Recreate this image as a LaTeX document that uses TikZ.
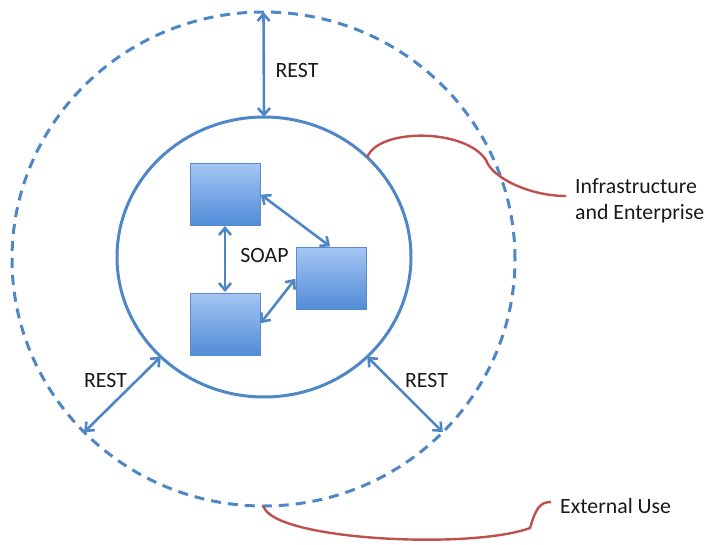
\documentclass[tikz,border=0pt]{standalone}
\usepackage{fontspec}
\setmainfont{Carlito}
\usetikzlibrary{arrows.meta,shapes.geometric}
\definecolor{lblue}{HTML}{4F87C6}
\definecolor{boxtop}{HTML}{A4C6F3}
\definecolor{boxbot}{HTML}{528CD8}
\definecolor{boxline}{HTML}{5A8CCB}
\definecolor{lred}{HTML}{C0504D}
\begin{document}
\begin{tikzpicture}[x=1pt,y=-1pt,
  ring/.style={ellipse,draw=lblue,line width=3pt,inner sep=0pt,outer sep=0pt},
  dashring/.style={ring,dash pattern=on 10pt off 7pt},
  soapbox/.style={rectangle,draw=boxline,line width=0.8pt,top color=boxtop,bottom color=boxbot,minimum width=70pt,minimum height=62pt,inner sep=0pt,outer sep=0pt},
  link/.style={draw=lblue,line width=2.6pt,{Straight Barb[length=7pt,width=12pt]}-{Straight Barb[length=7pt,width=12pt]}},
  callout/.style={draw=lred,line width=2.4pt},
  lbl/.style={font=\fontsize{21.8}{26}\selectfont,inner sep=0pt,text=black!90}]
\useasboundingbox (0,0) rectangle (707,544);
\node[dashring,minimum width=503pt,minimum height=494pt] (outer) at (263.5,259) {};
\node[ring,minimum width=294pt,minimum height=280pt] (inner) at (264,257) {};
\node[soapbox] (A) at (225,194) {};
\node[soapbox] (C) at (225,324) {};
\node[soapbox] (B) at (331,278) {};
\draw[link,shorten <=1pt,shorten >=1pt] (A.south) -- (C.north);
\draw[link,shorten <=1pt,shorten >=1pt] (A.east) -- (B.north);
\draw[link,shorten <=1pt,shorten >=1pt] (C.east) -- (B.west);
\draw[link] (outer.north) -- (inner.north);
\draw[link] (inner.224) -- (outer.224);
\draw[link] (inner.316) -- (outer.316);
\node[lbl,anchor=base] (soap) at (264.5,262) {SOAP};
\node[lbl,anchor=base] (rtop) at (297,77) {REST};
\node[lbl,anchor=base] (rleft) at (105.5,387) {REST};
\node[lbl,anchor=base] (rright) at (426.5,387) {REST};
\node[lbl,anchor=base west,align=left] (infra) at (575,219) {Infrastructure\\and Enterprise};
\node[lbl,anchor=base west] (ext) at (560,513) {External Use};
\draw[callout] (inner.44) .. controls (378,128) and (465,128) .. (486,160)
  .. controls (492,178) and (530,196) .. (566,196);
\draw[callout] (outer.south) .. controls (272,540) and (470,550) .. (530,528)
  .. controls (536,508) and (540,502) .. (551,502);
\end{tikzpicture}
\end{document}
